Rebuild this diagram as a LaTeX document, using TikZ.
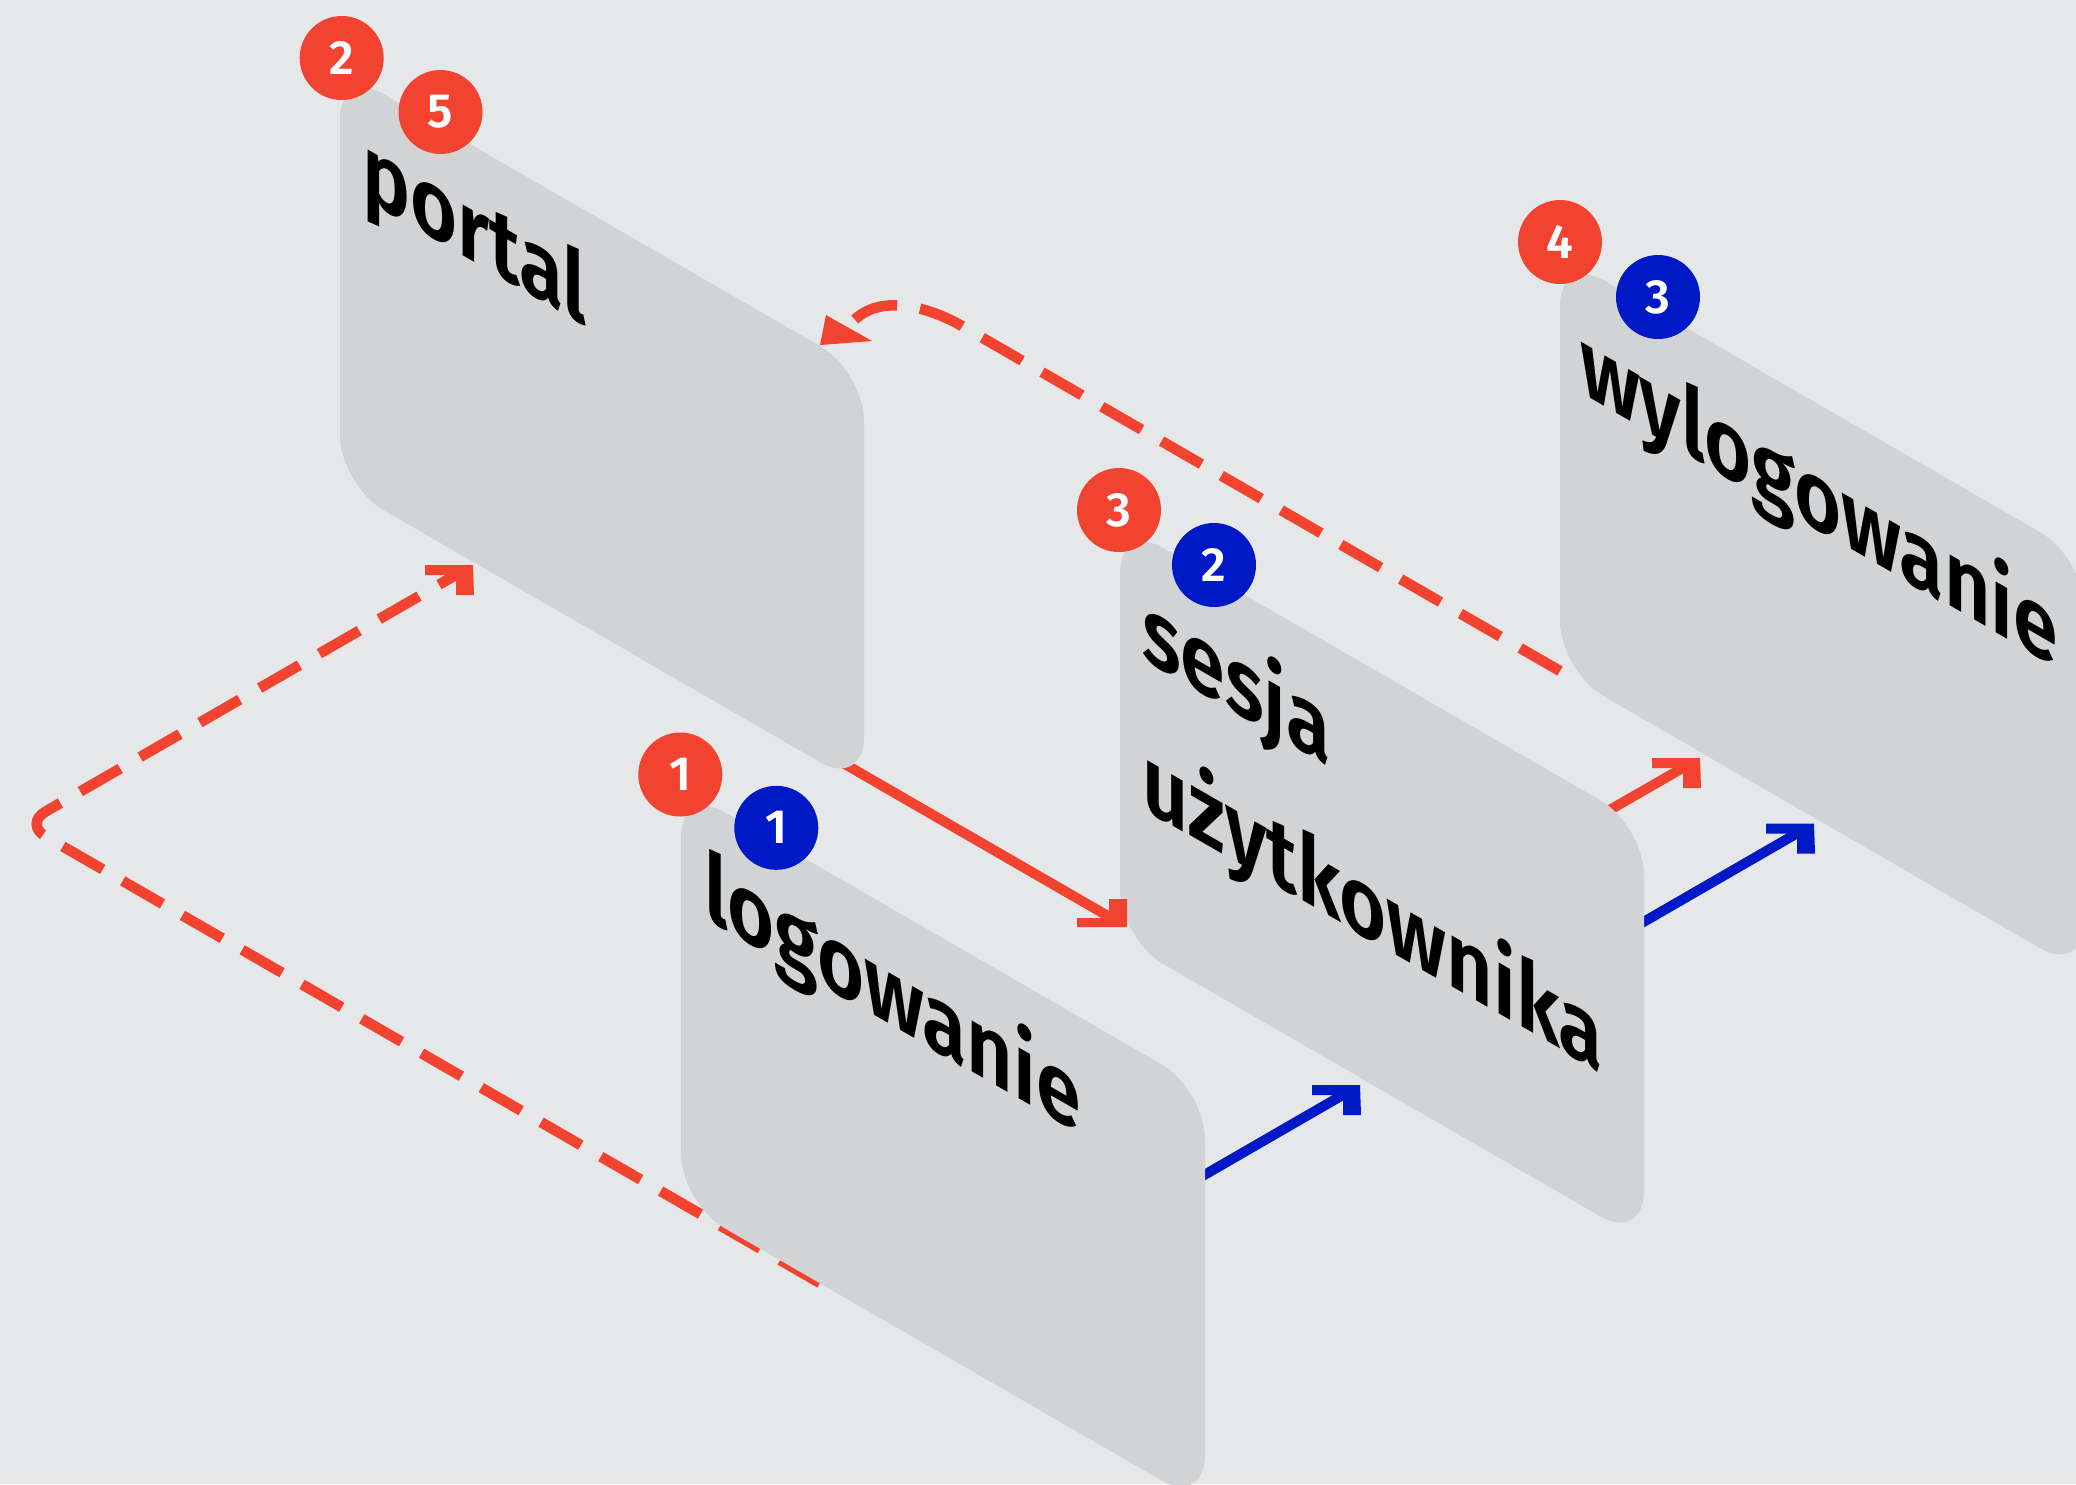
\documentclass[tikz,border=0pt]{standalone}
\usepackage{fontspec}
\setmainfont{Fira Sans}[BoldFont={Fira Sans SemiBold}]

\definecolor{bggray}{HTML}{E6E7E9}
\definecolor{cardgray}{HTML}{D2D3D5}
\definecolor{isored}{HTML}{F1432F}
\definecolor{isoblue}{HTML}{0019C6}

\tikzset{
	card/.pic={\fill[cardgray,rounded corners=50pt] (0,0) -- (0,416) -- (524,718.5) -- (524,302.5) -- cycle;},
	headB/.pic={\fill (0,0) -- (-48,0) -- (-48,10) -- (-17,10) -- (-17,30) -- (1,30) -- cycle;},
	headA/.pic={\fill (0,0) -- (-50,0) -- (-50,-9) -- (-18,-9) -- (-18,-28) -- (0,-28) -- cycle;}
}

\begin{document}
\begin{tikzpicture}[x=1pt,y=-1pt,
	cardtext/.style={anchor=base west,inner sep=0pt,yslant=-0.57735,xscale=0.84,font=\fontsize{96}{96}\selectfont\bfseries},
	badge/.style={circle,minimum size=84pt,inner sep=0pt,text=white,font=\fontsize{48}{48}\selectfont\bfseries},
	flow/.style={line width=10pt,shorten >=20pt},
	dashflow/.style={line width=10.5pt,dash pattern=on 46pt off 23pt}]
	\useasboundingbox (0,0) rectangle (2076,1484);
	\clip (0,0) rectangle (2076,1484);
	\fill[bggray] (0,0) rectangle (2076,1484);

	% way back: wylogowanie -> portal
	\coordinate (back_start) at (1560,671);
	\coordinate (back_bend) at (962,326);
	\coordinate (back_end) at (846,330);
	\draw[dashflow,isored] (back_start) -- (back_bend) .. controls (927,306) and (872,290) .. (back_end);

	\pic at (1560,255) {card};
	\node [cardtext] at (1580,392.5) (wyl_text) {wylogowanie};

	\coordinate (ses_wyl_red) at (1580,827);
	\coordinate (wyl_red_tip) at (1700,758);
	\draw[flow,isored] (ses_wyl_red) -- (wyl_red_tip);
	\pic[color=isored] at (wyl_red_tip) {headB};
	\coordinate (ses_wyl_blue) at (1620,935.5);
	\coordinate (wyl_blue_tip) at (1814,823.5);
	\draw[flow,isoblue] (ses_wyl_blue) -- (wyl_blue_tip);
	\pic[color=isoblue] at (wyl_blue_tip) {headB};

	\pic at (1120,523) {card};
	\node [cardtext] at (1142,658) (ses_text1) {sesja};
	\node [cardtext] at (1142,808) (ses_text2) {użytkownika};

	\coordinate (por_ses_red) at (810,744);
	\coordinate (ses_red_tip) at (1127,927);
	\draw[flow,isored] (por_ses_red) -- (ses_red_tip);
	\pic[color=isored] at (ses_red_tip) {headA};

	\pic at (340,69) {card};
	\node [cardtext] at (362,197) (por_text) {portal};

	% logowanie -> portal, round the left side
	\coordinate (log_por_start) at (820,1283);
	\coordinate (log_por_turn) at (24,824);
	\coordinate (por_red_tip) at (473,565);
	\draw[dashflow,isored,rounded corners=25pt,shorten >=20pt] (log_por_start) -- (log_por_turn) -- (por_red_tip);
	\pic[color=isored] at (por_red_tip) {headB};

	\coordinate (log_ses_blue) at (1180,1189);
	\coordinate (ses_blue_tip) at (1360,1085);
	\draw[flow,isoblue] (log_ses_blue) -- (ses_blue_tip);
	\pic[color=isoblue] at (ses_blue_tip) {headB};

	\pic at (681,787) {card};
	\node [cardtext] at (704,917) (log_text) {logowanie};

	\coordinate (back_tip) at (820,345);
	\fill[isored] (back_tip) -- (826,315) -- (872,341) -- cycle;

	\node [badge,fill=isored] at (341.7,58) (por_red_a) {2};
	\node [badge,fill=isored] at (440.5,112) (por_red_b) {5};
	\node [badge,fill=isored] at (680.3,774.5) (log_red) {1};
	\node [badge,fill=isoblue] at (776.3,827.8) (log_blue) {1};
	\node [badge,fill=isored] at (1119,510) (ses_red) {3};
	\node [badge,fill=isoblue] at (1214,565) (ses_blue) {2};
	\node [badge,fill=isored] at (1560,242) (wyl_red) {4};
	\node [badge,fill=isoblue] at (1658,297) (wyl_blue) {3};
\end{tikzpicture}
\end{document}
